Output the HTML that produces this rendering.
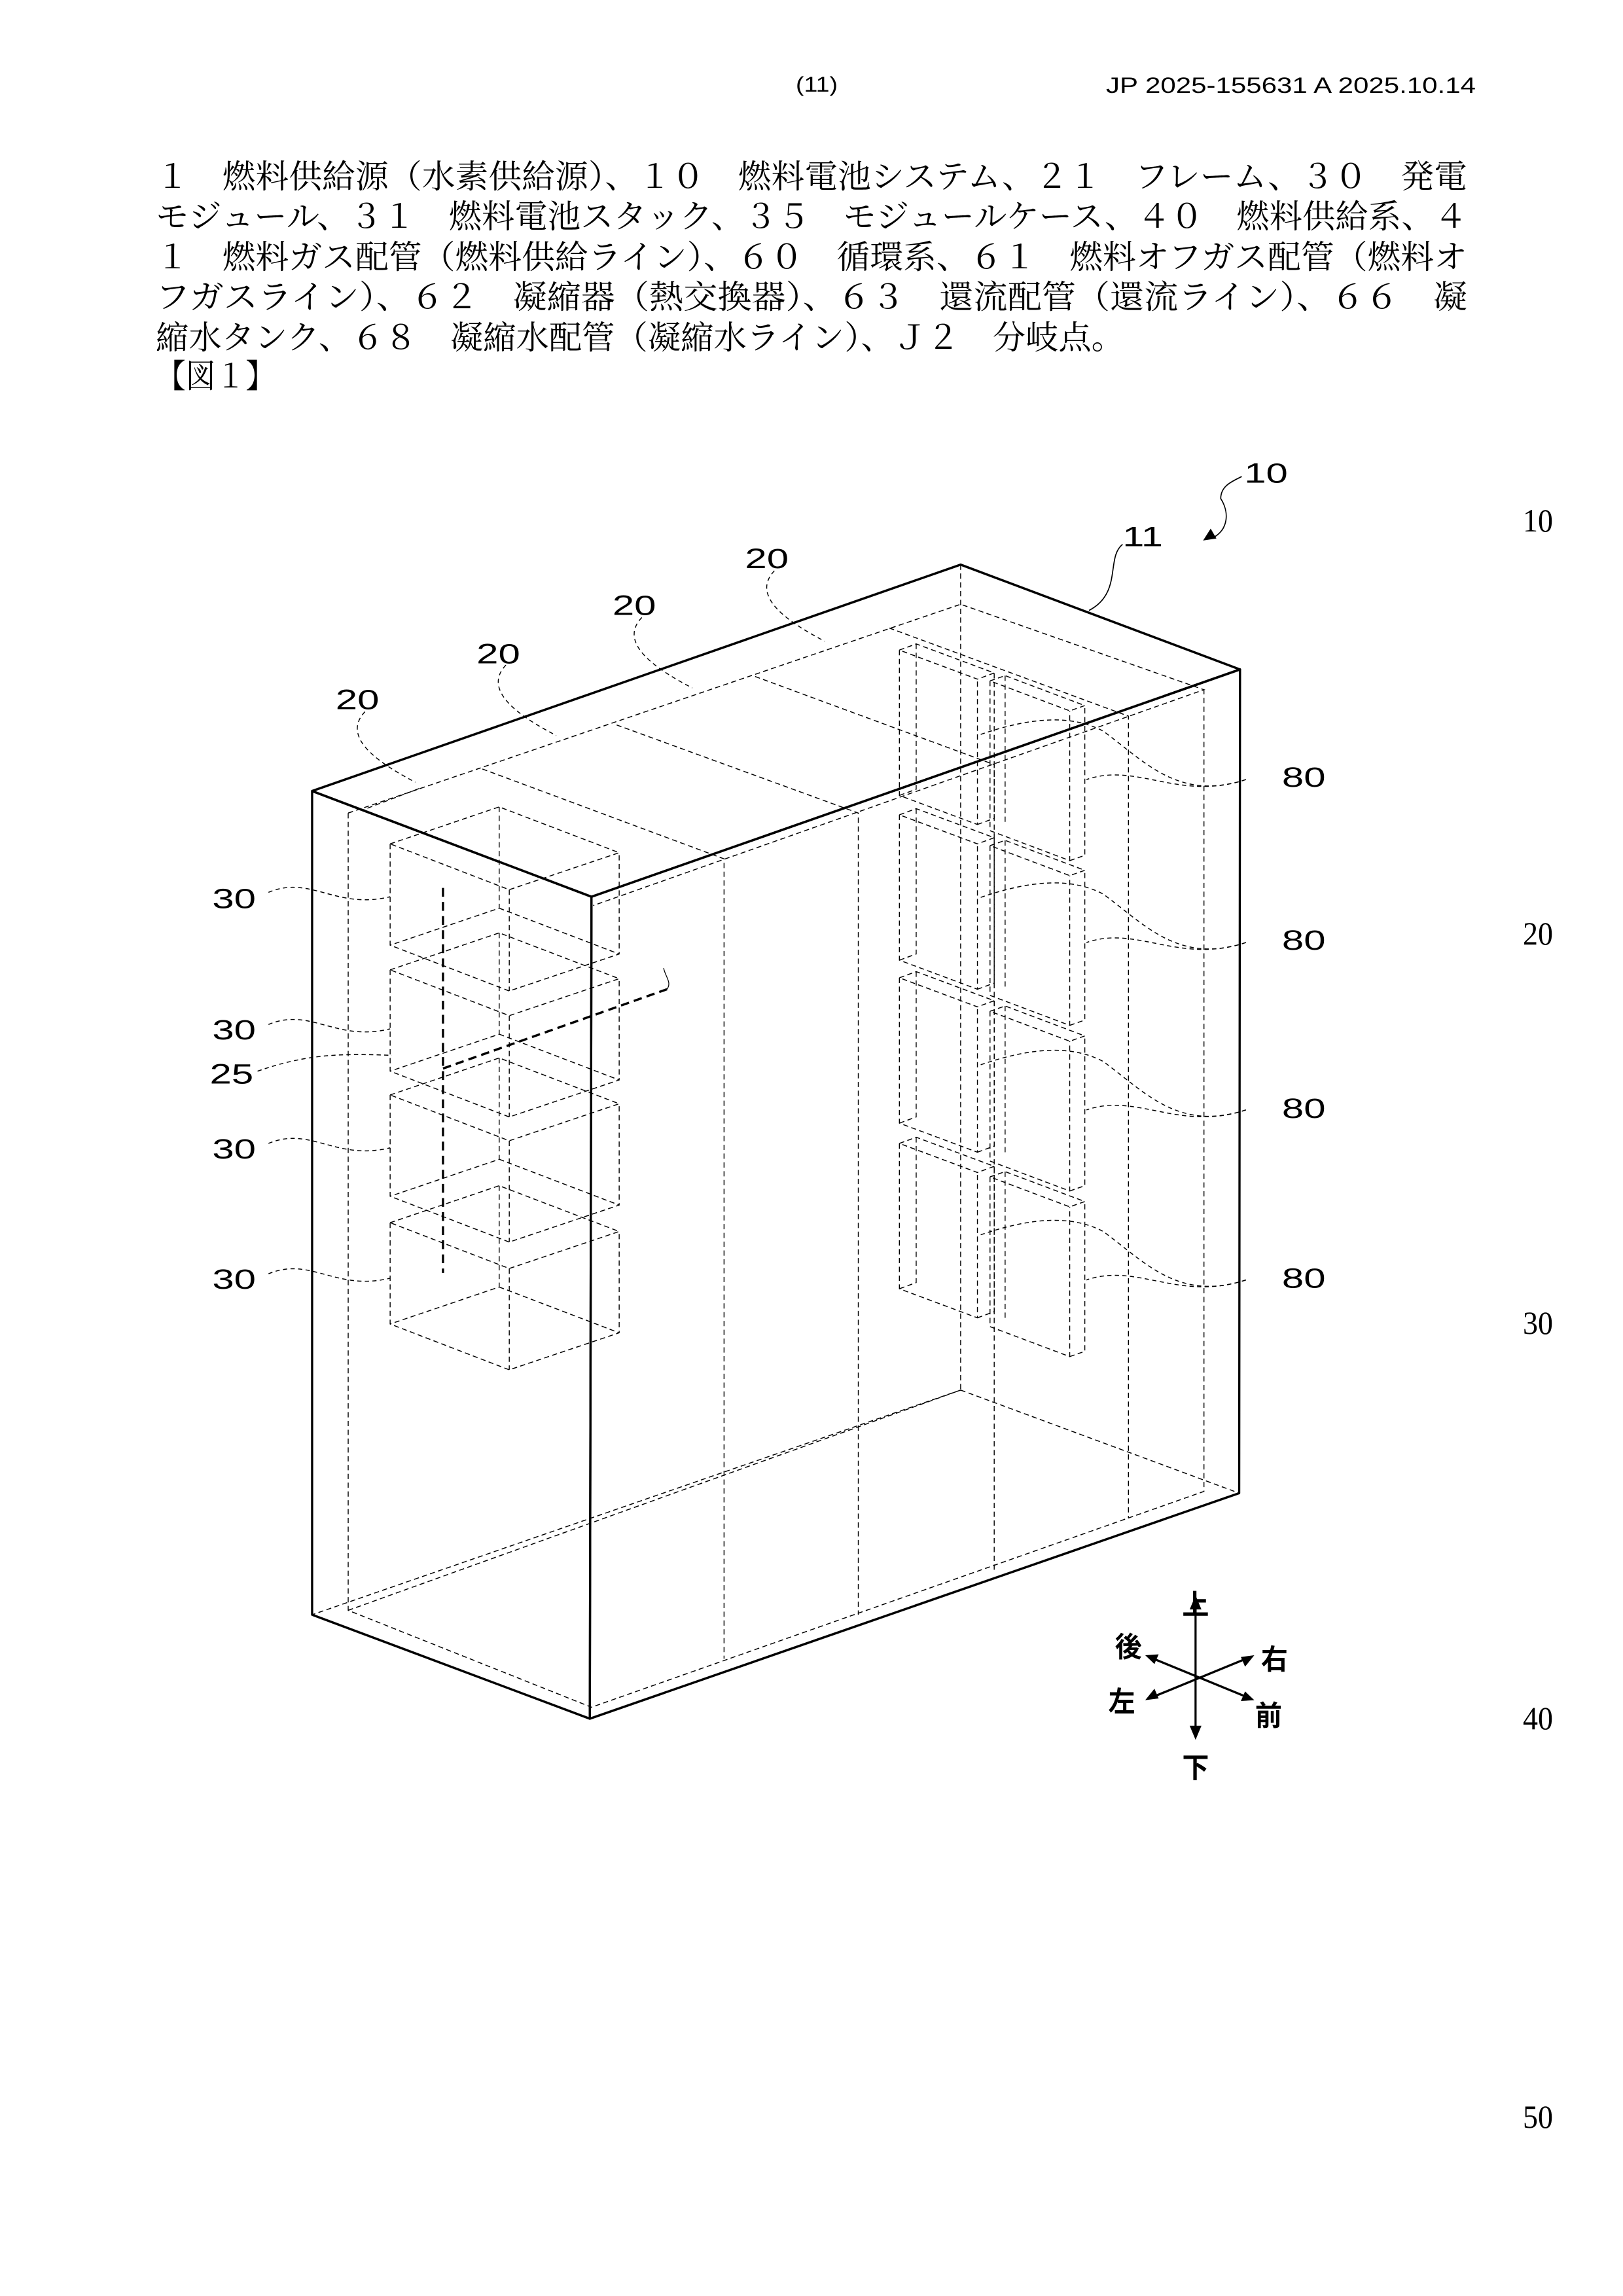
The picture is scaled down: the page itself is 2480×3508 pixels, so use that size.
<!DOCTYPE html>
<html><head><meta charset="utf-8"><style>
html,body{margin:0;padding:0;background:#fff}
svg{display:block}
.j{font-family:"Liberation Serif","Noto Serif CJK SC","Noto Sans CJK JP",serif;font-size:50px;fill:#000}
.l{font-family:"Liberation Sans",sans-serif;fill:#000}
</style></head><body>
<svg width="2480" height="3508" viewBox="0 0 2480 3508" xmlns="http://www.w3.org/2000/svg">
<rect width="2480" height="3508" fill="#fff"/>
<text x="1216" y="140" class="l" font-size="32" textLength="64" lengthAdjust="spacingAndGlyphs">(11)</text>
<text x="1690" y="142" class="l" font-size="34" textLength="565" lengthAdjust="spacingAndGlyphs">JP  2025-155631  A  2025.10.14</text>
<text x="238" y="287" class="j" textLength="2004" lengthAdjust="spacingAndGlyphs">１　燃料供給源（水素供給源）、１０　燃料電池システム、２１　フレーム、３０　発電</text>
<text x="238" y="348" class="j" textLength="2004" lengthAdjust="spacingAndGlyphs">モジュール、３１　燃料電池スタック、３５　モジュールケース、４０　燃料供給系、４</text>
<text x="238" y="410" class="j" textLength="2004" lengthAdjust="spacingAndGlyphs">１　燃料ガス配管（燃料供給ライン）、６０　循環系、６１　燃料オフガス配管（燃料オ</text>
<text x="238" y="471" class="j" textLength="2004" lengthAdjust="spacingAndGlyphs">フガスライン）、６２　凝縮器（熱交換器）、６３　還流配管（還流ライン）、６６　凝</text>
<text x="238" y="533" class="j" textLength="1480" lengthAdjust="spacingAndGlyphs">縮水タンク、６８　凝縮水配管（凝縮水ライン）、Ｊ２　分岐点。</text>
<text x="238" y="592" class="j" textLength="183" lengthAdjust="spacingAndGlyphs">【図１】</text>
<g class="j" font-size="42">
<text x="2327" y="812" textLength="46" lengthAdjust="spacingAndGlyphs">10</text><text x="2327" y="1443" textLength="46" lengthAdjust="spacingAndGlyphs">20</text><text x="2327" y="2038" textLength="46" lengthAdjust="spacingAndGlyphs">30</text><text x="2327" y="2642" textLength="46" lengthAdjust="spacingAndGlyphs">40</text><text x="2327" y="3251" textLength="46" lengthAdjust="spacingAndGlyphs">50</text>
</g>
<g transform="translate(250,650) scale(1.282,1.346)" fill="none" stroke="#000">
<g stroke-width="2.6" stroke-linejoin="round">
<polygon points="177,415 950,158 1283,277 510,535"/>
<polygon points="177,415 510,535 508,1468 177,1350"/>
<polygon points="510,535 1283,277 1282,1212 508,1468"/>
</g>
<g stroke-width="1.1" stroke-dasharray="6 4">
<path d="M950,158V1095M950,1095L177,1350M950,1095L1282,1212"/>
<path d="M220,440L950,203L1240,300L512,545M220,440V1345L510,1455L1240,1210V300M220,1345L950,1095"/>
<path d="M380,390L668,492V1400M540,340L828,440V1350M705,285L990,385V1300M865,230L1150,330V1240"/>
<path d="M305,412L236,437"/>
</g>
<g stroke-width="1.1" stroke-dasharray="6 4">
<g id="m"><path d="M270,475L400,433L543,485L412,527ZM270,475V590L412,642L543,600V485M412,527V642M400,433V548L270,590M400,548L543,600"/></g>
<use href="#m" transform="translate(0,143)"/><use href="#m" transform="translate(0,285)"/><use href="#m" transform="translate(0,430)"/>
</g>
<path d="M333,525V962M333,730L600,640" stroke-width="2.6" stroke-dasharray="10 6"/>
<path d="M600,640c6,-8 -2,-14 -4,-24" stroke-width="1"/>
<g stroke-width="1.1" stroke-dasharray="6 4">
<g id="a"><path d="M877,255L897,248L990,281L970,288ZM877,255V420L970,453V288M970,453L990,446V281M897,248V413L877,420"/></g>
<use href="#a" transform="translate(0,187)"/><use href="#a" transform="translate(0,372)"/><use href="#a" transform="translate(0,560)"/>
<g id="b"><path d="M985,290L1003,284L1098,318L1080,324ZM985,290V460L1080,494V324M1080,494L1098,488V318M1003,284V454"/></g>
<use href="#b" transform="translate(0,187)"/><use href="#b" transform="translate(0,375)"/><use href="#b" transform="translate(0,563)"/>
</g>
<g stroke-width="1.1" stroke-dasharray="5 4">
<path d="M240,325c-30,30 20,60 60,80"/><path d="M408,272c-30,30 20,60 60,80"/><path d="M570,218c-30,30 20,60 60,80"/><path d="M728,165c-30,30 20,60 60,80"/>
<path d="M125,530c50,-20 80,20 145,5"/><path d="M125,680c50,-20 80,20 145,5"/><path d="M112,733c60,-20 100,-20 160,-18"/><path d="M125,815c50,-20 80,20 145,5"/><path d="M125,963c50,-20 80,20 145,5"/>
<g id="c"><path d="M1290,402c-80,25 -120,-20 -170,-55c-40,-20 -90,-15 -150,5"/><path d="M1290,402c-80,25 -130,-20 -190,0"/></g>
<use href="#c" transform="translate(0,185)"/><use href="#c" transform="translate(0,375)"/><use href="#c" transform="translate(0,568)"/>
</g>
<path d="M1103,210c40,-20 20,-60 40,-75" stroke-width="1.3"/>
<path d="M1250,128c20,-10 20,-30 10,-45c0,-15 15,-20 25,-25" stroke-width="1.3"/>
<path d="M1240,130l14,-2l-6,-10z" fill="#000" stroke-width="1"/>
<g stroke-width="2.5">
<path d="M1230,1340V1480M1180,1443L1290,1400M1180,1400L1290,1443"/>
</g>
<g fill="#000" stroke="none">
<path d="M1230,1328l-7,16h14z"/><path d="M1230,1492l-7,-16h14z"/>
<path d="M1170,1447l11,-13l5,11z"/><path d="M1300,1396l-11,13l-5,-11z"/>
<path d="M1170,1396l16,-1l-5,11z"/><path d="M1300,1447l-16,1l5,-11z"/>
</g>
</g>
<g class="l" transform="translate(250,650) scale(1.282,1.346)">
<g font-size="32">
<text x="205" y="322" textLength="52" lengthAdjust="spacingAndGlyphs">20</text><text x="373" y="270" textLength="52" lengthAdjust="spacingAndGlyphs">20</text><text x="535" y="215" textLength="52" lengthAdjust="spacingAndGlyphs">20</text><text x="693" y="162" textLength="52" lengthAdjust="spacingAndGlyphs">20</text>
<text x="1143" y="137" textLength="48" lengthAdjust="spacingAndGlyphs">11</text><text x="1288" y="65" textLength="52" lengthAdjust="spacingAndGlyphs">10</text>
<text x="58" y="548" textLength="52" lengthAdjust="spacingAndGlyphs">30</text><text x="58" y="697" textLength="52" lengthAdjust="spacingAndGlyphs">30</text><text x="55" y="747" textLength="52" lengthAdjust="spacingAndGlyphs">25</text><text x="58" y="832" textLength="52" lengthAdjust="spacingAndGlyphs">30</text><text x="58" y="980" textLength="52" lengthAdjust="spacingAndGlyphs">30</text>
<text x="1333" y="410" textLength="52" lengthAdjust="spacingAndGlyphs">80</text><text x="1333" y="595" textLength="52" lengthAdjust="spacingAndGlyphs">80</text><text x="1333" y="786" textLength="52" lengthAdjust="spacingAndGlyphs">80</text><text x="1333" y="979" textLength="52" lengthAdjust="spacingAndGlyphs">80</text>
</g>
<g font-family="Liberation Sans,Noto Sans CJK JP,sans-serif" font-size="32" font-weight="bold" text-anchor="middle">
<text x="1230" y="1350">上</text><text x="1230" y="1535">下</text><text x="1150" y="1398">後</text><text x="1142" y="1460">左</text><text x="1324" y="1412">右</text><text x="1317" y="1476">前</text>
</g>
</g>
</svg>
</body></html>
